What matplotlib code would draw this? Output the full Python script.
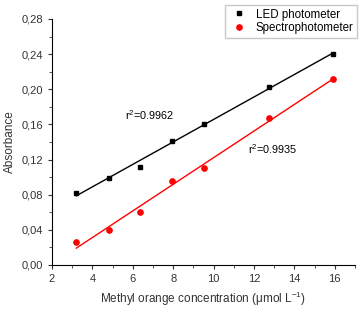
import numpy as np
import matplotlib.pyplot as plt
from matplotlib.ticker import FuncFormatter, MultipleLocator

plt.rcParams['font.family'] = ['Liberation Sans', 'DejaVu Sans']
plt.rcParams['mathtext.fontset'] = 'custom'
plt.rcParams['mathtext.rm'] = 'Liberation Sans'
plt.rcParams['mathtext.it'] = 'Liberation Sans'

# concentrations (umol/L) and absorbances
conc = [3.2, 4.8, 6.35, 7.95, 9.55, 12.75, 15.9]
led = [0.082, 0.099, 0.112, 0.141, 0.161, 0.203, 0.240]
spec = [0.026, 0.040, 0.060, 0.096, 0.110, 0.167, 0.212]
r2_led = "0.9962"
r2_spec = "0.9935"

fig = plt.figure(figsize=(3.64, 3.11), dpi=100)
ax = fig.add_axes([0.143, 0.148, 0.832, 0.791])

x = np.array(conc)
# linear fits
p1 = np.polyfit(x, led, 1)
p2 = np.polyfit(x, spec, 1)
ax.plot(x, np.polyval(p1, x), color='black', lw=1)
ax.plot(x, np.polyval(p2, x), color='red', lw=1)
ax.plot(x, led, 's', color='black', ms=3.5, label='LED photometer')
ax.plot(x, spec, 'o', color='red', ms=3.8, label='Spectrophotometer')

ax.text(5.6, 0.171, r"r$^2$=" + r2_led, fontsize=7.8, va='center')
ax.text(11.7, 0.132, r"r$^2$=" + r2_spec, fontsize=7.8, va='center')

ax.set_xlim(2, 17)
ax.set_ylim(0, 0.28)
ax.xaxis.set_major_locator(MultipleLocator(2))
ax.xaxis.set_minor_locator(MultipleLocator(1))
ax.yaxis.set_major_locator(MultipleLocator(0.04))
ax.yaxis.set_minor_locator(MultipleLocator(0.02))
ax.xaxis.set_major_formatter(FuncFormatter(lambda v, p: "%d" % v))
ax.yaxis.set_major_formatter(FuncFormatter(lambda v, p: ("%.2f" % v).replace('.', ',')))

for s in ['top', 'right']:
    ax.spines[s].set_visible(False)
ax.tick_params(which='both', direction='out', labelsize=8, colors='#333333')
ax.tick_params(which='major', length=3)
ax.tick_params(which='minor', length=2)

ax.set_xlabel("Methyl orange concentration (μmol L$^{-1}$)", fontsize=8.5, color='#333333')
ax.set_ylabel("Absorbance", fontsize=8.5, color='#333333')

ax.legend(loc='upper right', bbox_to_anchor=(1.027, 1.08), fontsize=8.3, frameon=True,
          fancybox=False, edgecolor='#bbbbbb', handletextpad=0.6, borderpad=0.3,
          labelspacing=0.15, handlelength=1.8, markerscale=1.0)

fig.savefig('out.png', dpi=100)
